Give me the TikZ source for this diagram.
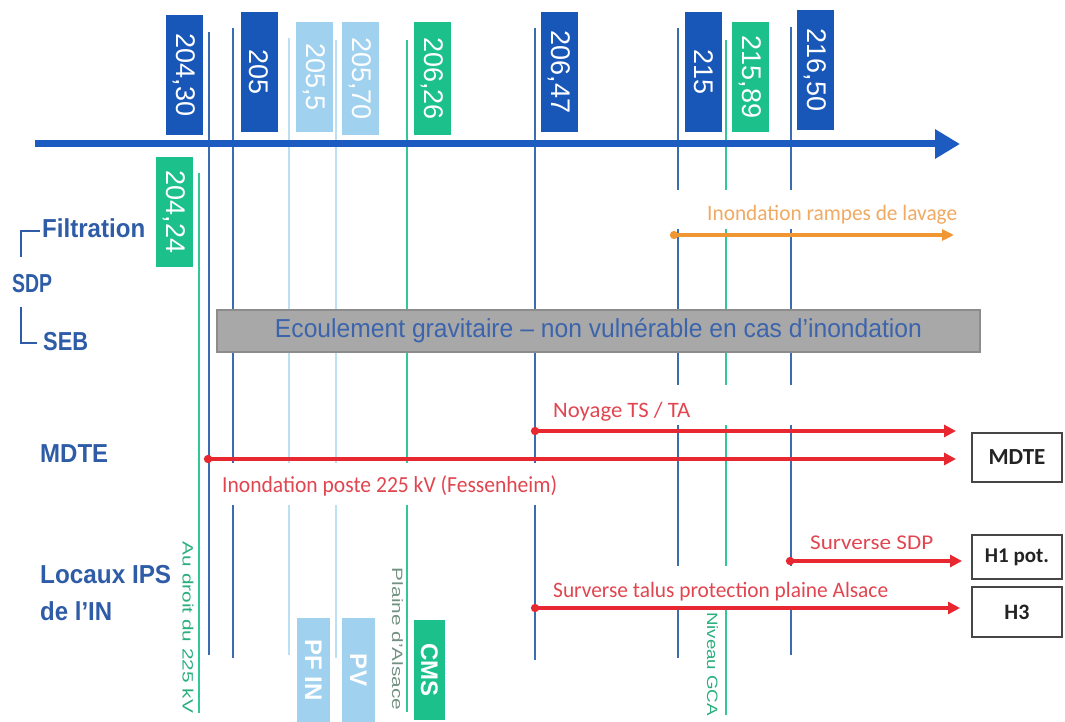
\documentclass[tikz,border=0pt]{standalone}
\usepackage{fontspec}
\setmainfont{Liberation Sans}
\newfontfamily\calib{Carlito}
\usepackage{graphicx}
\usetikzlibrary{arrows.meta}
\definecolor{dblue}{RGB}{24,86,184}
\definecolor{axblue}{RGB}{28,92,192}
\definecolor{lineblue}{RGB}{58,108,178}
\definecolor{lblue}{RGB}{160,210,240}
\definecolor{lline}{RGB}{188,224,243}
\definecolor{mgreen}{RGB}{28,192,138}
\definecolor{gline}{RGB}{50,200,150}
\definecolor{gtext}{RGB}{40,175,125}
\definecolor{ptext}{RGB}{115,145,130}
\definecolor{lab}{RGB}{46,92,166}
\definecolor{rred}{RGB}{232,40,48}
\definecolor{rtext}{RGB}{225,70,80}
\definecolor{orng}{RGB}{240,150,50}
\definecolor{otext}{RGB}{240,170,100}
\definecolor{gbox}{RGB}{168,168,168}
\definecolor{gboxd}{RGB}{140,140,140}
\definecolor{gbtext}{RGB}{60,100,172}
\definecolor{boxline}{RGB}{70,70,70}
\newcommand{\fs}[1]{\fontsize{#1}{#1}\selectfont}
\newcommand{\fitw}[2]{\resizebox{#1}{\height}{#2}}
\begin{document}
\begin{tikzpicture}[x=1pt,y=-1pt,
  vdark/.style={draw=lineblue,line width=2.8pt},
  vlight/.style={draw=lline,line width=2pt},
  vgreen/.style={draw=gline,line width=2.5pt},
  tbox/.style={inner sep=0pt,minimum width=37pt,text=white,font=\fs{27}},
  bbox/.style={inner sep=0pt,minimum width=33pt,text=white,font=\bfseries\fs{24}},
  redarr/.style={draw=rred,line width=4pt,{Circle[length=8pt]}-{Triangle[length=12pt,width=12pt]}},
  redlab/.style={anchor=base west,inner sep=0pt,text=rtext},
  leftlab/.style={anchor=base west,inner sep=0pt,text=lab,font=\bfseries\fs{26}},
  rbox/.style={draw=boxline,line width=1.5pt,fill=white,minimum width=90pt,inner sep=0pt,text={rgb,255:red,35;green,35;blue,35},font=\calib\bfseries},
  sidelab/.style={inner sep=0pt}]
\useasboundingbox (0,0) rectangle (1065,722);

% vertical level lines
\coordinate (g1t) at (199,173); \coordinate (g1b) at (199,713);
\coordinate (d1t) at (209,32);  \coordinate (d1b) at (209,655);
\coordinate (d2t) at (233,28);  \coordinate (d2b) at (233,658);
\coordinate (l1t) at (289,38);  \coordinate (l1b) at (289,655);
\coordinate (l2t) at (336,40);  \coordinate (l2b) at (336,658);
\coordinate (g2t) at (407,40);  \coordinate (g2b) at (407,712);
\coordinate (d3t) at (535,28);  \coordinate (d3b) at (535,660);
\coordinate (d4t) at (678,28);  \coordinate (d4b) at (678,658);
\coordinate (g3t) at (726,40);  \coordinate (g3b) at (726,715);
\coordinate (d5t) at (791,27);  \coordinate (d5b) at (791,655);
\draw[vgreen] (g1t) -- (g1b);
\draw[vdark] (d1t) -- (d1b);
\draw[vdark] (d2t) -- (d2b);
\draw[vlight] (l1t) -- (l1b);
\draw[vlight] (l2t) -- (l2b);
\draw[vgreen] (g2t) -- (g2b);
\draw[vdark] (d3t) -- (d3b);
\draw[vdark] (d4t) -- (d4b);
\draw[vgreen] (g3t) -- (g3b);
\draw[vdark] (d5t) -- (d5b);

% axis
\coordinate (ax0) at (35,144); \coordinate (ax1) at (960,144);
\draw[axblue,line width=7pt,-{Triangle[length=25pt,width=28pt]}] (ax0) -- (ax1);

% top level boxes
\node[tbox,fill=dblue,minimum height=120pt] (b20430) at (184.5,75) {\rotatebox{-90}{204,30}};
\node[tbox,fill=dblue,minimum height=120pt] (b205) at (259,72) {\rotatebox{-90}{205}};
\node[tbox,fill=lblue,minimum height=110pt] (b2055) at (314,77) {\rotatebox{-90}{205,5}};
\node[tbox,fill=lblue,minimum height=113pt] (b20570) at (360,78.5) {\rotatebox{-90}{205,70}};
\node[tbox,fill=mgreen,minimum height=113pt] (b20626) at (432,78.5) {\rotatebox{-90}{206,26}};
\node[tbox,fill=dblue,minimum height=120pt] (b20647) at (559.5,72) {\rotatebox{-90}{206,47}};
\node[tbox,fill=dblue,minimum height=120pt] (b215) at (703.5,72) {\rotatebox{-90}{215}};
\node[tbox,fill=mgreen,minimum height=110pt] (b21589) at (750.5,77) {\rotatebox{-90}{215,89}};
\node[tbox,fill=dblue,minimum height=120pt] (b21650) at (815.5,70) {\rotatebox{-90}{216,50}};
\node[tbox,fill=mgreen,minimum height=110pt] (b20424) at (174,212) {\rotatebox{-90}{204,24}};

% gray band
\node[fill=gbox,draw=gboxd,line width=1.5pt,minimum width=763pt,minimum height=42pt,inner sep=0pt,text=gbtext] (seb) at (598.5,331)
  {\fitw{647pt}{\fs{26}Ecoulement gravitaire -- non vulnérable en cas d'inondation}};

% masks behind labels
\fill[white] (668,190) rectangle (962,229);
\fill[white] (545,385) rectangle (800,425);
\fill[white] (215,463) rectangle (562,505);
\fill[white] (545,566) rectangle (895,606);

% labels of arrows
\node[redlab,text=otext] (lorange) at (707,220) {\fitw{250pt}{\calib\fs{22}Inondation rampes de lavage}};
\node[redlab] (lnoy) at (553,417) {\fitw{137pt}{\calib\fs{22}Noyage TS / TA}};
\node[redlab] (linond) at (222,492) {\fitw{335pt}{\calib\fs{23}Inondation poste 225 kV (Fessenheim)}};
\node[redlab] (lsdp) at (810,549) {\fitw{123pt}{\calib\fs{21}Surverse SDP}};
\node[redlab] (ltalus) at (553,597) {\fitw{335pt}{\calib\fs{22}Surverse talus protection plaine Alsace}};

% arrows
\coordinate (o1s) at (670,235); \coordinate (o1e) at (954,235);
\draw[draw=orng,line width=3.5pt,{Circle[length=8pt]}-{Triangle[length=12pt,width=11pt]}] (o1s) -- (o1e);
\coordinate (a1s) at (531,431); \coordinate (a1e) at (956,431);
\coordinate (a2s) at (204,459); \coordinate (a2e) at (956,459);
\coordinate (a3s) at (786,561); \coordinate (a3e) at (962,561);
\coordinate (a4s) at (531,608); \coordinate (a4e) at (960,608);
\draw[redarr] (a1s) -- (a1e);
\draw[redarr] (a2s) -- (a2e);
\draw[redarr] (a3s) -- (a3e);
\draw[redarr] (a4s) -- (a4e);

% right boxes
\node[rbox,minimum height=49pt,font=\calib\bfseries\fs{23}] (rmdte) at (1017,457.5) {MDTE};
\node[rbox,minimum height=44pt,font=\calib\bfseries\fs{21}] (rh1) at (1017,557) {H1 pot.};
\node[rbox,minimum height=50pt,font=\calib\bfseries\fs{22}] (rh3) at (1017,612) {H3};

% left labels
\node[leftlab] (lfil) at (42,237) {\fitw{103pt}{Filtration}};
\node[leftlab] (lsdpl) at (12,292) {\fitw{40pt}{SDP}};
\node[leftlab] (lseb) at (43,350) {\fitw{45pt}{SEB}};
\node[leftlab] (lmdte) at (40,462) {\fitw{68pt}{MDTE}};
\node[leftlab] (lloc) at (40,583) {\fitw{131pt}{Locaux IPS}};
\node[leftlab] (lin) at (40,620) {\fitw{72pt}{de l'IN}};
\draw[lab,line width=2.5pt] (21,257) -- (21,231) -- (40,231);
\draw[lab,line width=2.5pt] (21,307) -- (21,343) -- (37,343);

% bottom boxes
\node[bbox,fill=lblue,minimum height=104pt] (bpfin) at (313.5,670) {\rotatebox{-90}{PF IN}};
\node[bbox,fill=lblue,minimum height=104pt] (bpv) at (358.5,670) {\rotatebox{-90}{PV}};
\node[bbox,fill=mgreen,minimum width=31pt,minimum height=100pt] (bcms) at (429.5,670) {\rotatebox{-90}{CMS}};

% side texts
\node[sidelab,text=gtext] (tdroit) at (188,627.5) {\rotatebox{-90}{\fitw{171pt}{\fs{15}Au droit du 225 kV}}};
\node[sidelab,text=ptext] (tplaine) at (397.5,639) {\rotatebox{-90}{\fitw{142pt}{\fs{15}Plaine d'Alsace}}};
\node[sidelab,text=gtext] (tgca) at (712.5,664) {\rotatebox{-90}{\fitw{104pt}{\fs{15}Niveau GCA}}};
\end{tikzpicture}
\end{document}
